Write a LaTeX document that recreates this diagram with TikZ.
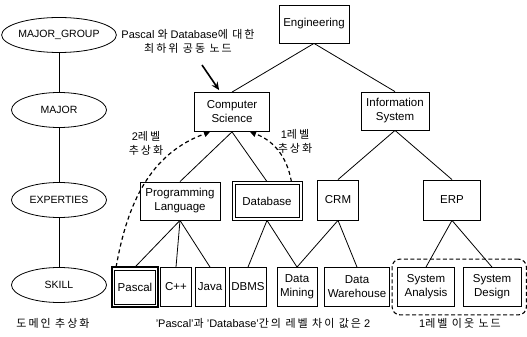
\documentclass[tikz,border=0pt]{standalone}
\usepackage{fontspec}
\setmainfont{Liberation Sans}
\newfontfamily\krfont[LetterSpace=18]{Noto Sans CJK KR}
\usetikzlibrary{shapes.geometric,arrows.meta,fit}

\begin{document}
\begin{tikzpicture}[x=1pt, y=1pt,
    every node/.style={font=\fontsize{11.5}{14}\selectfont},
    level node/.style={draw, ellipse, line width=0.8pt, minimum width=95pt, minimum height=35pt,
        inner sep=0pt, font=\fontsize{10.5}{12}\selectfont},
    concept node/.style={draw, line width=0.8pt, align=center, inner sep=1pt, minimum height=39pt},
    skill node/.style={concept node, minimum height=39pt},
    frame/.style={draw, line width=#1},
    tree edge/.style={line width=0.8pt},
    abstraction/.style={line width=1.2pt, dash pattern=on 4pt off 3pt, -{Triangle[length=6pt,width=6pt]}},
    pointer/.style={line width=1.6pt, -{Stealth[length=8pt,width=7pt]}},
    neighbour/.style={draw, line width=1.1pt, dash pattern=on 4pt off 2.5pt, rounded corners=8pt},
    remark/.style={align=center, font=\fontsize{11}{14}\selectfont}]
    \useasboundingbox (0,0) rectangle (527,337);

    \node[level node] (mg) at (59,302) {MAJOR\_GROUP};
    \node[level node] (mj) at (59,227) {MAJOR};
    \node[level node] (ex) at (59,137) {EXPERTIES};
    \node[level node] (sk) at (59,52) {SKILL};
    \draw[tree edge] (mg) -- (mj) -- (ex) -- (sk);

    \node[concept node, minimum width=70pt, minimum height=38pt] (eng) at (314,313) {Engineering};
    \node[concept node, minimum width=75pt] (cs) at (232,225) {Computer\\Science};
    \node[concept node, minimum width=68pt, minimum height=38pt] (is) at (395,226) {Information\\System};
    \node[concept node, minimum width=80pt, minimum height=38pt] (pl) at (180,136) {Programming\\Language};
    \node[concept node, minimum width=64pt, minimum height=33pt] (db) at (267,136) {Database};
    \draw[frame=0.8pt] ([shift={(-2.5pt,-2.5pt)}]db.south west) rectangle ([shift={(2.5pt,2.5pt)}]db.north east);
    \node[concept node, minimum width=41pt, minimum height=40pt] (crm) at (338,137) {CRM};
    \node[concept node, minimum width=57pt, minimum height=40pt] (erp) at (452,137) {ERP};

    \node[skill node, minimum width=41pt, minimum height=34pt] (pascal) at (135,50) {Pascal};
    \draw[frame=2pt] ([shift={(-2.5pt,-2.5pt)}]pascal.south west) rectangle ([shift={(2.5pt,2.5pt)}]pascal.north east);
    \node[skill node, minimum width=31pt] (cpp) at (176,50) {C++};
    \node[skill node, minimum width=30pt] (java) at (210,50) {Java};
    \node[skill node, minimum width=37pt] (dbms) at (248,50) {DBMS};
    \node[skill node, minimum width=40pt] (dm) at (297,50) {Data\\Mining};
    \node[skill node, minimum width=65pt] (dw) at (357,50) {Data\\Warehouse};
    \node[skill node, minimum width=57pt] (sa) at (426,50) {System\\Analysis};
    \node[skill node, minimum width=58pt] (sd) at (492,50) {System\\Design};
    \node[neighbour, fit=(sa)(sd), inner xsep=5pt, inner ysep=8pt] (nbr) {};

    \draw[tree edge] (eng.south) -- (cs.north);
    \draw[tree edge] (eng.south) -- (is.north);
    \draw[tree edge] (cs.south) -- (pl.north);
    \draw[tree edge] (cs.south) -- ([yshift=2.5pt]db.north);
    \draw[tree edge] (is.south) -- (crm.north);
    \draw[tree edge] (is.south) -- (erp.north);
    \draw[tree edge] (pl.south) -- ([yshift=2.5pt]pascal.north);
    \draw[tree edge] (pl.south) -- (cpp.north);
    \draw[tree edge] (pl.south) -- (java.north);
    \draw[tree edge] ([yshift=-2.5pt]db.south) -- (dbms.north);
    \draw[tree edge] ([yshift=-2.5pt]db.south) -- (dm.north);
    \draw[tree edge] (crm.south) -- (dm.north);
    \draw[tree edge] (crm.south) -- (dw.north);
    \draw[tree edge] (erp.south) -- (sa.north);
    \draw[tree edge] (erp.south) -- (sd.north);

    \draw[abstraction] ([shift={(2pt,2.5pt)}]pascal.north west) to[out=80, in=200] ([xshift=-22pt]cs.south);
    \draw[abstraction] ([shift={(-8pt,2.5pt)}]db.north east) to[out=100, in=-20] ([xshift=18pt]cs.south);
    \node[remark] (two) at (146,194) {2{\krfont 레벨}\\{\krfont 추상화}};
    \node[remark] (one) at (295,196) {1{\krfont 레벨}\\{\krfont 추상화}};

    \node[remark] (note) at (188,296) {Pascal {\krfont 와} Database{\krfont 에 대한}\\{\krfont 최하위 공동 노드}};
    \coordinate (tail) at (202,272);
    \draw[pointer] (tail) -- ([xshift=25pt,yshift=2pt]cs.north west);

    \node[remark] (domain) at (53,14) {\krfont 도메인 추상화};
    \node[remark] (gap) at (263,14) {'Pascal'{\krfont 과} 'Database'{\krfont 간의 레벨 차이 값은} 2};
    \node[remark] (near) at (460,14) {1{\krfont 레벨 이웃 노드}};
\end{tikzpicture}
\end{document}
